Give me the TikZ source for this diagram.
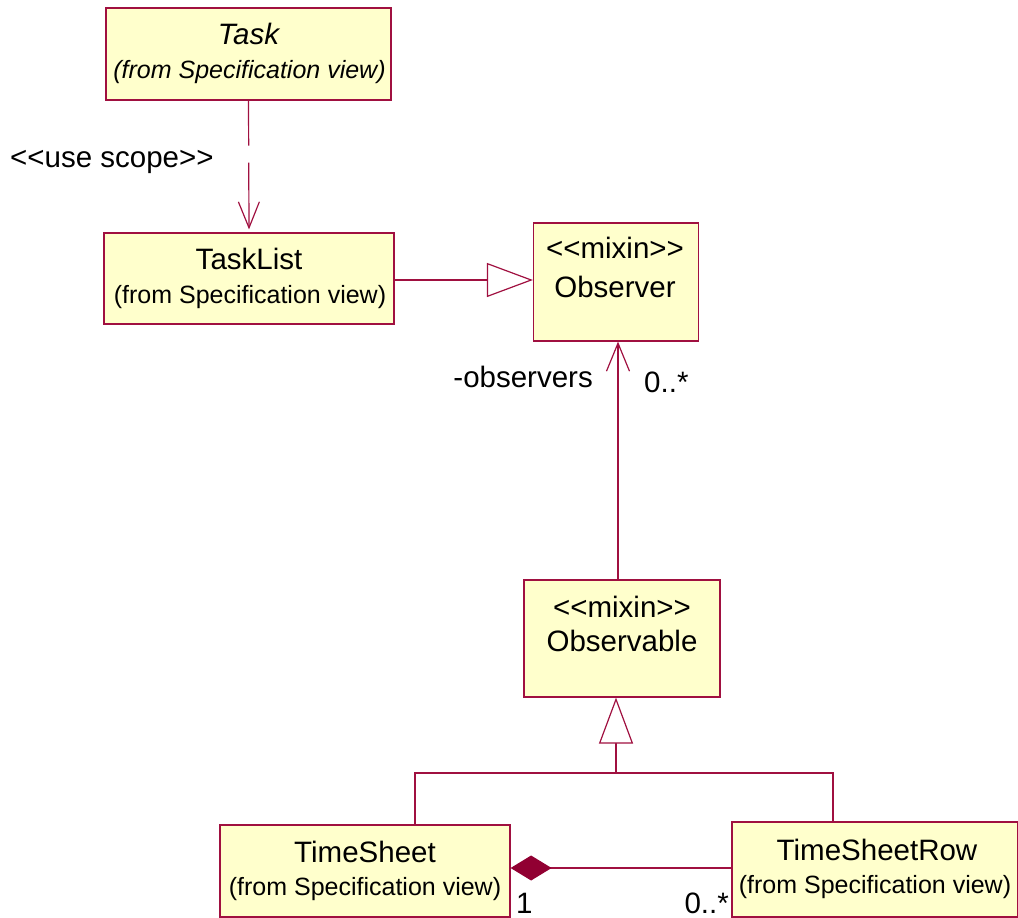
\documentclass[tikz,border=0pt]{standalone}
\usepackage{fontspec}
\setmainfont{Liberation Sans}[Ligatures=TeXOff]
\usetikzlibrary{arrows.meta,calc}
\definecolor{umlline}{RGB}{160,16,64}
\definecolor{umlfill}{RGB}{255,255,204}
\definecolor{umldiamond}{RGB}{145,0,50}
\begin{document}
\begin{tikzpicture}[x=1pt,y=-1pt,
  classbox/.style={draw=umlline,fill=umlfill,line width=1.2pt,inner sep=0pt},
  nametext/.style={anchor=base,inner sep=0pt,font=\fontsize{29.5}{34}\selectfont},
  subtext/.style={anchor=base,inner sep=0pt,font=\fontsize{25}{30}\selectfont},
  labeltext/.style={inner sep=0pt,font=\fontsize{29.5}{34}\selectfont},
  conn/.style={draw=umlline,line width=1.2pt},
  generalization/.style={conn,-{Triangle[open,length=46pt,width=34pt,fill=white]}},
  navigable/.style={conn,-{Straight Barb[length=28pt,width=23pt]}},
  dependency/.style={conn,dash pattern=on 45pt off 17pt on 300pt off 0pt,-{Straight Barb[length=26pt,width=21pt]}},
  composition/.style={conn,{Diamond[length=41pt,width=25pt,fill=umldiamond,color=umldiamond]}-}]
\useasboundingbox (0,0) rectangle (1018,918);

% class boxes
\node[classbox,minimum width=285pt,minimum height=92pt] (task) at (248.5,54) {};
\node[classbox,minimum width=290pt,minimum height=91pt] (tasklist) at (249,278.5) {};
\node[classbox,minimum width=165pt,minimum height=118pt] (observer) at (616,282) {};
\node[classbox,minimum width=196pt,minimum height=117pt] (observable) at (622,638.5) {};
\node[classbox,minimum width=290pt,minimum height=92pt] (timesheet) at (365,871) {};
\node[classbox,minimum width=286pt,minimum height=95pt] (timesheetrow) at (875,869.5) {};

% class texts
\node[nametext,font=\fontsize{29.5}{34}\selectfont\itshape] (taskname) at (248.5,45) {Task};
\node[subtext,font=\fontsize{25}{30}\selectfont\itshape] (tasksub) at (249.5,78) {(from Specification view)};
\node[nametext] (tasklistname) at (249,269) {TaskList};
\node[subtext] (tasklistsub) at (250,303) {(from Specification view)};
\node[nametext] (observerst) at (615,258) {<<mixin>>};
\node[nametext] (observername) at (615,297) {Observer};
\node[nametext] (observablest) at (622,617) {<<mixin>>};
\node[nametext] (observablename) at (622,651) {Observable};
\node[nametext] (timesheetname) at (365,862) {TimeSheet};
\node[subtext] (timesheetsub) at (365,895) {(from Specification view)};
\node[nametext] (timesheetrowname) at (877,860) {TimeSheetRow};
\node[subtext] (timesheetrowsub) at (875,893) {(from Specification view)};

% connectors
\draw[dependency] (task.south) -- ($(tasklist.north)+(0,-3)$);
\node[labeltext,anchor=base west] (uselabel) at (10,167) {<<use scope>>};

\draw[generalization] (tasklist.east |- 0,280) -- (observer.west |- 0,280);

\draw[navigable] (observable.north -| 618,0) -- (observer.south -| 618,0);
\node[labeltext,anchor=base east] (rolelabel) at (593,387) {-observers};
\node[labeltext,anchor=base west] (multobs) at (644,392) {0..*};

\coordinate (joint) at (616,773);
\coordinate (tsup) at (415,825);
\coordinate (tsrup) at (833,822);
\draw[conn] (tsup) |- (joint) -| (tsrup);
\draw[generalization] (joint) -- (observable.south -| joint);

\draw[composition] (timesheet.east |- 0,868) -- (timesheetrow.west |- 0,868);
\node[labeltext,anchor=base west] (multone) at (516,913) {1};
\node[labeltext,anchor=base east] (multmany) at (729,913) {0..*};
\end{tikzpicture}
\end{document}
